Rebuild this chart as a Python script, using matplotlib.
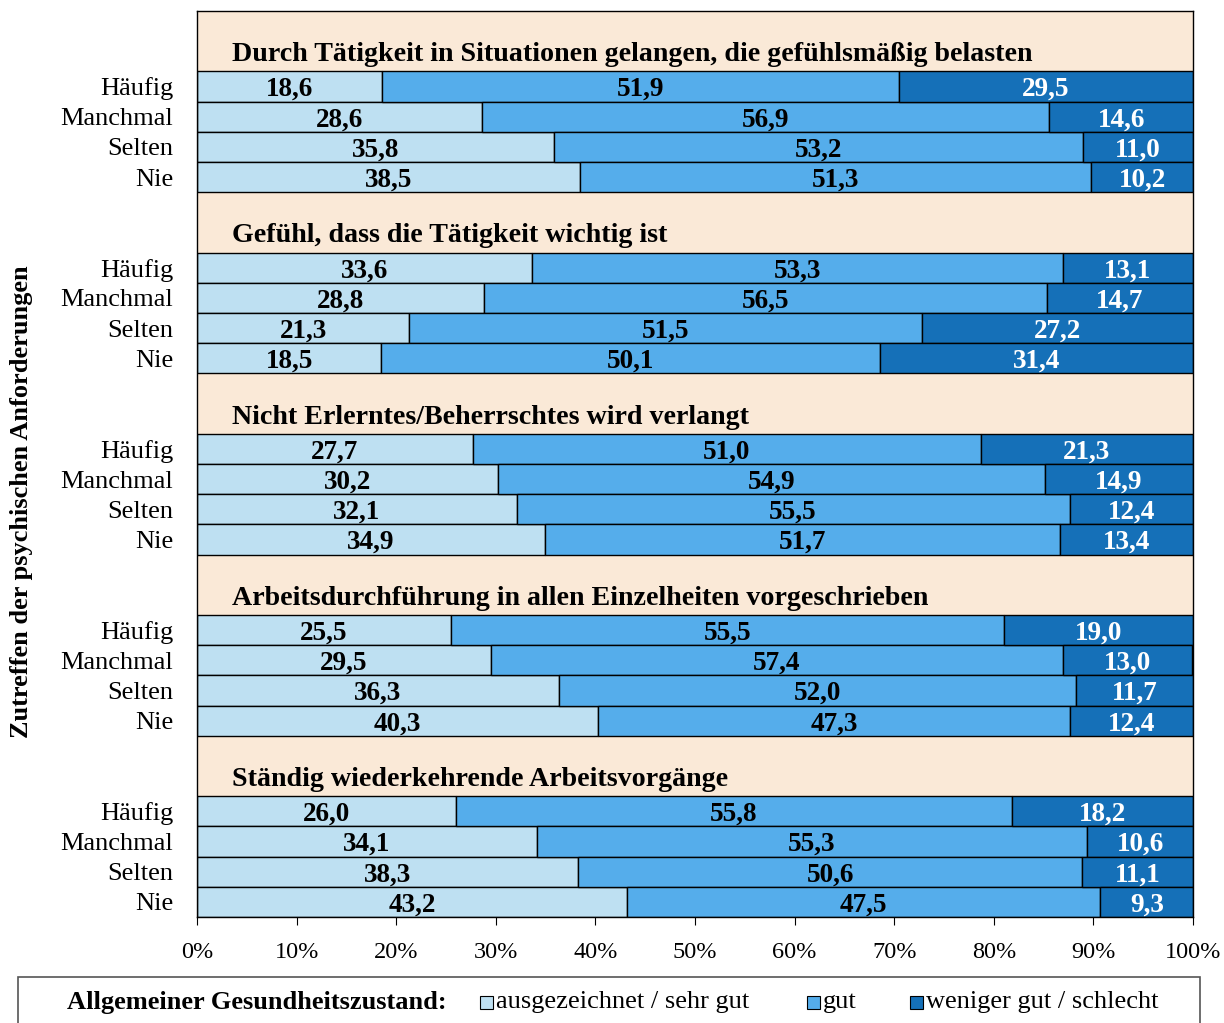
import numpy as np
import matplotlib.pyplot as plt
from matplotlib.patches import Rectangle

plt.rcParams['font.family'] = ['Liberation Serif', 'DejaVu Serif']

groups = [
    'Durch Tätigkeit in Situationen gelangen, die gefühlsmäßig belasten',
    'Gefühl, dass die Tätigkeit wichtig ist',
    'Nicht Erlerntes/Beherrschtes wird verlangt',
    'Arbeitsdurchführung in allen Einzelheiten vorgeschrieben',
    'Ständig wiederkehrende Arbeitsvorgänge',
]
rows = ['Häufig', 'Manchmal', 'Selten', 'Nie']

# values per group, rows Häufig..Nie
sehr_gut = [
    [18.6, 28.6, 35.8, 38.5],
    [33.6, 28.8, 21.3, 18.5],
    [27.7, 30.2, 32.1, 34.9],
    [25.5, 29.5, 36.3, 40.3],
    [26.0, 34.1, 38.3, 43.2],
]
gut = [
    [51.9, 56.9, 53.2, 51.3],
    [53.3, 56.5, 51.5, 50.1],
    [51.0, 54.9, 55.5, 51.7],
    [55.5, 57.4, 52.0, 47.3],
    [55.8, 55.3, 50.6, 47.5],
]
schlecht = [
    [29.5, 14.6, 11.0, 10.2],
    [13.1, 14.7, 27.2, 31.4],
    [21.3, 14.9, 12.4, 13.4],
    [19.0, 13.0, 11.7, 12.4],
    [18.2, 10.6, 11.1, 9.3],
]
series = ['ausgezeichnet / sehr gut', 'gut', 'weniger gut / schlecht']
colors = ['#BEE0F2', '#55ADEB', '#1570B8']
text_colors = ['black', 'black', 'white']

fig = plt.figure(figsize=(12.24, 10.23), dpi=100)
ax = fig.add_axes([0.1609, 0.1036, 0.8138, 0.8857])
ax.set_facecolor('#FAE9D7')

slots = 6  # 2 header slots + 4 bars per group
ytick_pos = []
ytick_lab = []
for g, title in enumerate(groups):
    ax.text(3.5, g * slots + 1.45, title, fontsize=20.2, fontweight='bold', va='center', ha='left')
    ypos = g * slots + 2.5 + np.arange(4)
    left = np.zeros(4)
    for vals, col, tc in zip([sehr_gut[g], gut[g], schlecht[g]], colors, text_colors):
        vals = np.array(vals)
        ax.barh(ypos, vals, left=left, height=1.0, color=col, edgecolor='black', linewidth=1.0)
        for y, l, v in zip(ypos, left, vals):
            ax.text(l + v / 2, y + 0.1, f'{v:.1f}'.replace('.', ','), ha='center', va='center',
                    fontsize=19.5, fontweight='bold', color=tc)
        left = left + vals
    ytick_pos.extend(ypos)
    ytick_lab.extend(rows)

ax.set_xlim(0, 100)
ax.set_ylim(len(groups) * slots, 0)
ax.set_yticks(ytick_pos)
ax.set_yticklabels(ytick_lab, fontsize=19)
ax.tick_params(axis='y', length=0, pad=17)
ax.set_xticks(np.arange(0, 101, 10))
ax.set_xticklabels([f'{t}%' for t in range(0, 101, 10)], fontsize=17.5)
ax.tick_params(axis='x', direction='out', length=6, pad=12)
for s in ax.spines.values():
    s.set_linewidth(1.0)

fig.text(22 / 1224, 1 - 502 / 1023, 'Zutreffen der psychischen Anforderungen', rotation=90,
         fontsize=19, fontweight='bold', ha='center', va='center')

# legend box
fig.add_artist(Rectangle((18 / 1224, -0.02), (1200 - 18) / 1224, 0.02 + (1023 - 977) / 1023,
                         transform=fig.transFigure, facecolor='white', edgecolor='#555555', linewidth=1.2))
ly = 1 - 1002 / 1023
fig.text(67 / 1224, ly, 'Allgemeiner Gesundheitszustand:', fontsize=19, fontweight='bold', va='center')
sw_x = [480, 807, 910]
for x0, col, lab in zip(sw_x, colors, series):
    fig.add_artist(Rectangle((x0 / 1224, ly - 6.5 / 1023), 13 / 1224, 13 / 1023,
                             transform=fig.transFigure, facecolor=col, edgecolor='black', linewidth=0.8))
    fig.text((x0 + 16) / 1224, ly, lab, fontsize=19, va='center')

fig.savefig('out.png', dpi=100)
